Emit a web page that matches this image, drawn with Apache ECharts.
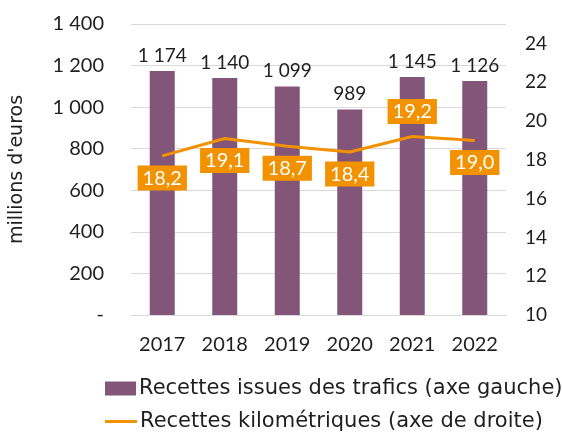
<!DOCTYPE html>
<html>
<head>
<meta charset="utf-8">
<script src="https://cdn.jsdelivr.net/npm/echarts@6/dist/echarts.min.js"></script>
<style>
    html, body { margin: 0; padding: 0; background: #fff; }
    #chart { width: 562px; height: 432px; }
</style>
</head>
<body>
<div id="chart"></div>
<script type="text/javascript">
    // données
    var annees = ['2017', '2018', '2019', '2020', '2021', '2022'];
    var recettesTrafics = [1174, 1140, 1099, 989, 1145, 1126];
    var recettesKm = [18.2, 19.1, 18.7, 18.4, 19.2, 19.0];
    var nomBarres = 'Recettes issues des trafics (axe gauche)';
    var nomLigne = 'Recettes kilométriques (axe de droite)';

    var police = 'Lato, "Noto Sans", sans-serif';
    var policeLarge = '"DejaVu Sans", sans-serif';
    var violet = '#835579';
    var orange = '#F39200';
    var texte = '#1f1f1f';

    function milliers(v) {
        if (v === 0) return '-';
        return String(v).replace(/\B(?=(\d{3})+(?!\d))/g, ' ');
    }

    var myChart = echarts.init(document.getElementById('chart'));

    var option = {
        animation: false,
        textStyle: { fontFamily: police },
        grid: { left: 124, right: 56, top: 24, bottom: 117 },
        legend: [
            {
                data: [nomBarres],
                left: 100, top: 373,
                icon: 'rect', itemWidth: 31, itemHeight: 14, itemGap: 4,
                textStyle: { fontSize: 21, color: texte, fontFamily: policeLarge, padding: [0, 0, 0, -2] }
            },
            {
                data: [nomLigne],
                left: 100, top: 406,
                icon: 'rect', itemWidth: 32, itemHeight: 3,
                textStyle: { fontSize: 21, color: texte, fontFamily: policeLarge, padding: [0, 0, 0, -2] }
            }
        ],
        xAxis: {
            type: 'category',
            data: annees,
            axisTick: { show: false },
            axisLine: { lineStyle: { color: '#D9D9D9' } },
            axisLabel: { fontSize: 20, color: texte, margin: 20 }
        },
        yAxis: [
            {
                type: 'value',
                min: 0, max: 1400, interval: 200,
                name: "millions d'euros",
                nameLocation: 'middle',
                nameRotate: 90,
                nameGap: 104,
                nameTextStyle: { fontSize: 19, color: texte, fontFamily: policeLarge },
                axisLabel: { fontSize: 20, color: texte, margin: 27, formatter: milliers },
                splitLine: { lineStyle: { color: '#D9D9D9' } }
            },
            {
                type: 'value',
                min: 10, max: 25, interval: 2,
                axisLabel: { fontSize: 19, color: texte, margin: 19, showMaxLabel: false },
                splitLine: { show: false }
            }
        ],
        series: [
            {
                name: nomBarres,
                type: 'bar',
                data: recettesTrafics,
                barWidth: 25,
                itemStyle: { color: violet },
                label: {
                    show: true,
                    position: 'top',
                    distance: 6,
                    fontSize: 19,
                    color: texte,
                    formatter: function (p) { return milliers(p.value); }
                }
            },
            {
                name: nomLigne,
                type: 'line',
                yAxisIndex: 1,
                data: recettesKm.map(function (v, i) {
                    var d = { value: v };
                    if (i === 4) d.label = { position: 'top', distance: 12 };
                    return d;
                }),
                symbol: 'circle',
                symbolSize: 1,
                itemStyle: { color: orange },
                lineStyle: { color: orange, width: 3 },
                label: {
                    show: true,
                    position: 'bottom',
                    distance: 9,
                    fontSize: 20,
                    color: '#fff',
                    backgroundColor: orange,
                    padding: [3, 5, 2, 5],
                    formatter: function (p) { return p.value.toFixed(1).replace('.', ','); }
                },
                z: 3
            }
        ]
    };

    myChart.setOption(option);
</script>
</body>
</html>
